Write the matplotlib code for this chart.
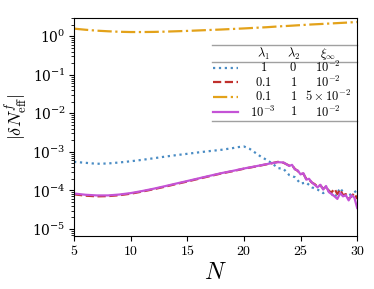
import matplotlib
matplotlib.use("Agg")
import matplotlib.pyplot as plt
from matplotlib.ticker import FuncFormatter, LogLocator

plt.rcParams["mathtext.fontset"] = "cm"
plt.rcParams["font.family"] = "serif"
plt.rcParams["font.serif"] = ["DejaVu Serif"]

# --- data ---
N_orange = [5, 6, 7, 8, 9, 10, 11, 12, 13, 14, 15, 16, 17, 18, 19, 20,
            21, 22, 23, 24, 25, 26, 27, 28, 29, 30]
orange = [1.58, 1.48, 1.40, 1.35, 1.31, 1.29, 1.29, 1.30, 1.32, 1.35, 1.38,
          1.42, 1.46, 1.50, 1.55, 1.60, 1.66, 1.72, 1.80, 1.87, 1.95, 2.03,
          2.10, 2.18, 2.26, 2.35]

N_blue = [5, 6, 7, 8, 9, 10, 11, 12, 13, 14, 15, 16, 17, 18, 19, 19.5, 20,
          20.5, 21, 21.5, 22, 22.5, 23, 23.5, 24, 24.5, 25, 25.5, 26, 26.5,
          27, 27.5, 28, 28.5, 29, 29.5, 30]
blue = [5.5e-4, 5.2e-4, 4.9e-4, 5.0e-4, 5.3e-4, 5.7e-4, 6.2e-4, 6.8e-4,
        7.5e-4, 8.2e-4, 8.9e-4, 9.7e-4, 1.05e-3, 1.13e-3, 1.25e-3, 1.33e-3,
        1.38e-3, 1.2e-3, 9.5e-4, 7.5e-4, 6.2e-4, 5.0e-4, 3.8e-4, 3.6e-4,
        2.5e-4, 2.2e-4, 1.5e-4, 1.6e-4, 1.2e-4, 1.05e-4, 8.5e-5, 1.0e-4,
        6.5e-5, 1.15e-4, 7.0e-5, 8.0e-5, 1.0e-4]

N_fine = [5, 6, 7, 8, 9, 10, 11, 12, 13, 14, 15, 16, 17, 18, 19, 20, 21, 22,
          22.5, 23, 23.5, 24, 24.25, 24.5, 24.75, 25, 25.25, 25.5, 25.75, 26,
          26.25, 26.5, 26.75, 27, 27.25, 27.5, 27.75, 28, 28.25, 28.5, 28.75,
          29, 29.25, 29.5, 29.75, 30]
red = [7.9e-5, 7.3e-5, 7.0e-5, 7.1e-5, 7.5e-5, 8.2e-5, 9.3e-5, 1.07e-4,
       1.24e-4, 1.46e-4, 1.7e-4, 2.0e-4, 2.35e-4, 2.75e-4, 3.15e-4, 3.65e-4,
       4.15e-4, 4.75e-4, 5.1e-4, 5.5e-4, 5.2e-4, 4.4e-4, 4.5e-4, 3.6e-4,
       3.2e-4, 2.7e-4, 2.7e-4, 2.0e-4, 1.9e-4, 1.6e-4, 1.45e-4, 1.25e-4,
       1.35e-4, 1.1e-4, 1.25e-4, 9.5e-5, 9.0e-5, 1.1e-4, 8.0e-5, 1.05e-4,
       7.5e-5, 8.0e-5, 6.0e-5, 7.0e-5, 8.5e-5, 6.0e-5]
magenta = [8.3e-5, 7.7e-5, 7.4e-5, 7.4e-5, 7.8e-5, 8.5e-5, 9.6e-5, 1.1e-4,
           1.28e-4, 1.5e-4, 1.75e-4, 2.05e-4, 2.4e-4, 2.8e-4, 3.2e-4, 3.7e-4,
           4.2e-4, 4.8e-4, 5.1e-4, 5.4e-4, 5.3e-4, 4.3e-4, 4.6e-4, 3.5e-4,
           3.3e-4, 2.6e-4, 2.8e-4, 1.9e-4, 2.0e-4, 1.6e-4, 1.4e-4, 1.2e-4,
           1.4e-4, 1.05e-4, 1.3e-4, 9.0e-5, 8.0e-5, 7.0e-5, 6.0e-5, 8.5e-5,
           7.0e-5, 7.5e-5, 5.5e-5, 7.5e-5, 6.5e-5, 3.5e-5]

lam1 = [r"$1$", r"$0.1$", r"$0.1$", r"$10^{-3}$"]
lam2 = [r"$0$", r"$1$", r"$1$", r"$1$"]
xi = [r"$10^{-2}$", r"$10^{-2}$", r"$5\times10^{-2}$", r"$10^{-2}$"]

C_BLUE = "#4a8cc4"
C_RED = "#c0302c"
C_ORANGE = "#e3a21a"
C_MAG = "#c453d6"

fig = plt.figure(figsize=(3.74, 2.89), dpi=100)
ax = fig.add_axes([0.198, 0.183, 0.757, 0.755])

l_blue, = ax.plot(N_blue, blue, ls=":", color=C_BLUE, lw=1.6)
l_red, = ax.plot(N_fine, red, ls="--", color=C_RED, lw=1.6)
l_orange, = ax.plot(N_orange, orange, ls="-.", color=C_ORANGE, lw=1.6)
l_mag, = ax.plot(N_fine, magenta, ls="-", color=C_MAG, lw=1.6)

ax.set_yscale("log")
ax.set_xlim(5, 30)
ax.set_ylim(6.5e-6, 3.0)
ax.set_xticks([5, 10, 15, 20, 25, 30])
ax.xaxis.set_major_formatter(FuncFormatter(lambda v, p: f"${v:g}$"))
ax.yaxis.set_major_locator(LogLocator(base=10, numticks=10))
ax.yaxis.set_minor_locator(LogLocator(base=10, subs=range(2, 10), numticks=20))
ax.tick_params(labelsize=10, direction="out", length=3.5, width=0.8, pad=2.5)
ax.tick_params(which="minor", length=2, width=0.6)
ax.set_xlabel(r"$N$", fontsize=17, labelpad=2)
ax.set_ylabel(r"$|\delta N_{\rm eff}^{f}|$", fontsize=13)
ax.yaxis.set_label_coords(-0.155, 0.55)

# table-style legend
tr = ax.transAxes
x0, x1 = 0.488, 1.0
for yr in (0.876, 0.798, 0.528):
    ax.plot([x0, x1], [yr, yr], transform=tr, color="#a0a0a0", lw=1.0,
            clip_on=False)
cols = (0.668, 0.774, 0.898)
for xc, head in zip(cols, (r"$\lambda_1$", r"$\lambda_2$", r"$\xi_\infty$")):
    ax.text(xc, 0.835, head, transform=tr, ha="center", va="center", fontsize=9)
rows_y = (0.771, 0.706, 0.638, 0.569)
handles = (l_blue, l_red, l_orange, l_mag)
for yr, h, a, b, c in zip(rows_y, handles, lam1, lam2, xi):
    ax.plot([0.492, 0.578], [yr, yr], transform=tr, color=h.get_color(),
            ls=h.get_linestyle(), lw=1.6)
    for xc, s in zip(cols, (a, b, c)):
        ax.text(xc, yr, s, transform=tr, ha="center", va="center", fontsize=9)

fig.savefig("out.png", dpi=100)
